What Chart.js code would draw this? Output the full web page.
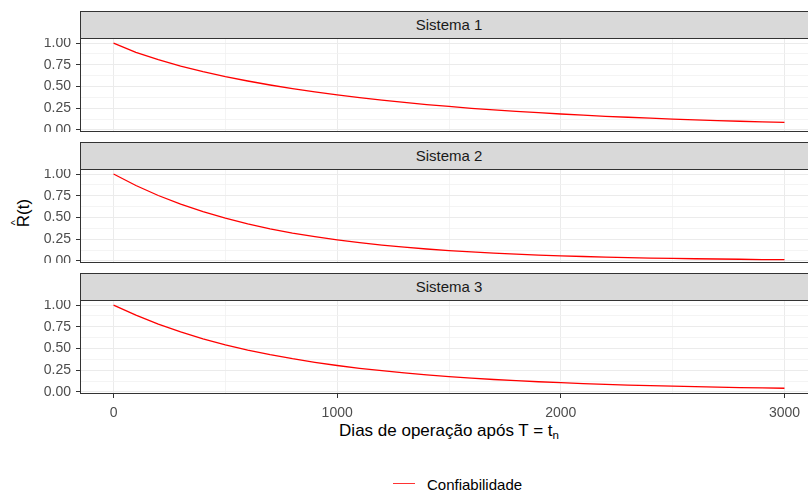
<!DOCTYPE html>
<html>
<head>
<meta charset="utf-8">
<script src="https://cdn.jsdelivr.net/npm/chart.js@4/dist/chart.umd.min.js"></script>
<style>
  html, body { margin: 0; padding: 0; background: #fff; }
  body {
    width: 808px; height: 490px; overflow: hidden; position: relative;
    font-family: "Liberation Sans", Arial, sans-serif;
  }
  .strip {
    position: absolute; left: 80px; width: 738px; height: 28px;
    box-sizing: border-box; background: #D9D9D9; border: 1px solid #333;
    color: #1A1A1A; font-size: 15px; text-align: center; line-height: 26px;
  }
  .frame {
    position: absolute; left: 80px; width: 738px; box-sizing: border-box;
    border: 1px solid #333; pointer-events: none;
  }
  canvas { position: absolute; left: 0; }
  #xtitle {
    position: absolute; left: 249px; top: 421px; width: 400px;
    text-align: center; font-size: 17px; line-height: 19px; color: #000;
  }
  #xtitle sub { font-size: 11.5px; vertical-align: -3px; line-height: 0; }
  #ytitle {
    position: absolute; left: -6px; top: 203px; width: 60px; height: 20px;
    line-height: 20px; text-align: center; font-size: 17px; color: #000;
    transform: rotate(-90deg); transform-origin: 50% 50%;
  }
  #ytitle .hatted { position: relative; display: inline-block; }
  #ytitle .hat { position: absolute; left: 2px; top: -9px; font-size: 11px; }
  #legend-line {
    position: absolute; left: 393px; top: 483px; width: 22px; height: 0;
    border-top: 1.4px solid #FF3333;
  }
  #legend-text {
    position: absolute; left: 427px; top: 476px; font-size: 15px;
    line-height: 17px; color: #000;
  }
</style>
</head>
<body>
<div id="xtitle">Dias de operação após T = t<sub>n</sub></div>
<div id="ytitle"><span class="hatted">R<span class="hat">^</span></span>(t)</div>
<div id="legend-line"></div>
<div id="legend-text">Confiabilidade</div>
<script>
// Estimated reliability R(t) per system, sampled every 100 days of operation
const days = [0, 100, 200, 300, 400, 500, 600, 700, 800, 900, 1000,
  1100, 1200, 1300, 1400, 1500, 1600, 1700, 1800, 1900, 2000,
  2100, 2200, 2300, 2400, 2500, 2600, 2700, 2800, 2900, 3000];

const sistema1 = [1.000, 0.892, 0.808, 0.735, 0.671, 0.614, 0.563, 0.517, 0.475, 0.437, 0.403,
  0.371, 0.342, 0.316, 0.292, 0.270, 0.249, 0.231, 0.213, 0.198, 0.183,
  0.170, 0.157, 0.146, 0.135, 0.125, 0.116, 0.108, 0.100, 0.093, 0.087];

const sistema2 = [1.000, 0.868, 0.753, 0.653, 0.567, 0.492, 0.427, 0.370, 0.321, 0.279, 0.242,
  0.210, 0.182, 0.158, 0.137, 0.119, 0.103, 0.090, 0.078, 0.067, 0.058,
  0.051, 0.044, 0.038, 0.033, 0.029, 0.025, 0.022, 0.019, 0.016, 0.014];

const sistema3 = [1.000, 0.883, 0.780, 0.690, 0.611, 0.542, 0.482, 0.429, 0.382, 0.341, 0.304,
  0.272, 0.244, 0.219, 0.196, 0.176, 0.159, 0.143, 0.129, 0.117, 0.106,
  0.096, 0.087, 0.079, 0.072, 0.066, 0.060, 0.055, 0.050, 0.046, 0.042];

const panelTitles = ['Sistema 1', 'Sistema 2', 'Sistema 3'];
const seriesByPanel = [sistema1, sistema2, sistema3];

// Axis breaks: grid at every break, labels only at the labelled ones
const xBreaks = [0, 500, 1000, 1500, 2000, 2500, 3000];
const xLabelled = [0, 1000, 2000, 3000];
const yBreaks = [0, 0.125, 0.25, 0.375, 0.5, 0.625, 0.75, 0.875, 1];
const yLabelled = [0, 0.25, 0.5, 0.75, 1];

// Panel geometry
const PLOT_TOP = [38, 169, 300];
const PLOT_H = 94;
const STRIP_H = 27;
const X_AXIS_H = 30;
const CANVAS_W = 820;

const tickFont = { family: '"Liberation Sans", Arial, sans-serif', size: 14 };
const isIn = (list, v) => list.some(b => Math.abs(b - v) < 1e-9);

function gridColor(list) {
  return ctx => (ctx.tick && isIn(list, ctx.tick.value)) ? '#EBEBEB' : '#F1F1F1';
}
function gridWidth(list) {
  return ctx => (ctx.tick && isIn(list, ctx.tick.value)) ? 1 : 0.8;
}
function tickMarkColor(list) {
  return ctx => (ctx.tick && isIn(list, ctx.tick.value)) ? '#333333' : 'rgba(0,0,0,0)';
}

function buildPanel(i) {
  const withXAxis = i === panelTitles.length - 1;
  const top = PLOT_TOP[i];

  const strip = document.createElement('div');
  strip.className = 'strip';
  strip.style.top = (top - STRIP_H) + 'px';
  strip.textContent = panelTitles[i];
  document.body.appendChild(strip);

  const h = PLOT_H + (withXAxis ? X_AXIS_H : 0);
  const canvas = document.createElement('canvas');
  canvas.width = CANVAS_W;
  canvas.height = h;
  canvas.style.width = CANVAS_W + 'px';
  canvas.style.height = h + 'px';
  canvas.style.top = top + 'px';
  document.body.appendChild(canvas);

  const frame = document.createElement('div');
  frame.className = 'frame';
  frame.style.top = top + 'px';
  frame.style.height = PLOT_H + 'px';
  document.body.appendChild(frame);

  const values = seriesByPanel[i];
  new Chart(canvas, {
    type: 'line',
    data: {
      datasets: [{
        label: 'Confiabilidade',
        data: days.map((d, k) => ({ x: d, y: values[k] })),
        borderColor: '#FF0000',
        borderWidth: 1.3,
        pointRadius: 0,
        fill: false,
        tension: 0
      }]
    },
    options: {
      responsive: false,
      animation: false,
      devicePixelRatio: 1,
      layout: { padding: { left: 0, right: 2, top: 0, bottom: 0 } },
      plugins: { legend: { display: false }, tooltip: { enabled: false } },
      scales: {
        x: {
          type: 'linear',
          min: -150,
          max: 3150,
          border: { display: false },
          afterBuildTicks: s => { s.ticks = xBreaks.map(v => ({ value: v })); },
          afterFit: s => {
            s.height = withXAxis ? X_AXIS_H : 0;
            s.paddingLeft = 0; s.paddingRight = 0;
          },
          grid: {
            color: gridColor(xLabelled),
            lineWidth: gridWidth(xLabelled),
            drawTicks: withXAxis,
            tickLength: 4,
            tickColor: tickMarkColor(xLabelled),
            tickWidth: 1
          },
          ticks: {
            display: withXAxis,
            autoSkip: false,
            maxRotation: 0,
            padding: 7,
            color: '#4D4D4D',
            font: tickFont,
            callback: v => isIn(xLabelled, v) ? String(v) : ''
          }
        },
        y: {
          type: 'linear',
          min: -0.024,
          max: 1.058,
          border: { display: false },
          afterBuildTicks: s => { s.ticks = yBreaks.map(v => ({ value: v })); },
          afterFit: s => {
            s.width = 80;
            s.paddingTop = 0; s.paddingBottom = 0;
          },
          grid: {
            color: gridColor(yLabelled),
            lineWidth: gridWidth(yLabelled),
            drawTicks: true,
            tickLength: 4,
            tickColor: tickMarkColor(yLabelled),
            tickWidth: 1
          },
          ticks: {
            autoSkip: false,
            padding: 5,
            color: '#4D4D4D',
            font: tickFont,
            callback: v => isIn(yLabelled, v) ? v.toFixed(2) : ''
          }
        }
      }
    }
  });
}

panelTitles.forEach((_, i) => buildPanel(i));
</script>
</body>
</html>
